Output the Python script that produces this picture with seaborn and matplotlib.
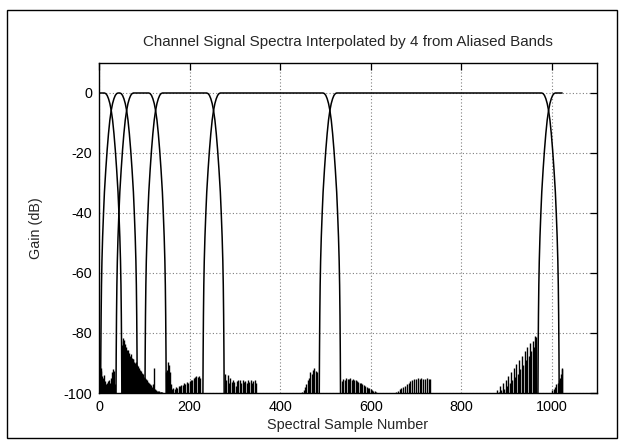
import matplotlib
matplotlib.use("Agg")
import matplotlib.pyplot as plt
import pandas as pd
import seaborn as sns
from matplotlib.patches import Rectangle

# Crossover points between adjacent channels (spectral sample numbers)
band_edges = [0, 27, 61, 125, 253, 510, 993, 1023]

# Shape of one channel's upper transition band: offset from the crossover (samples) and gain (dB)
edge_offset = [-15, -12, -9, -6, -3, 0, 3, 6, 9, 12, 15, 17, 19, 20.5, 21.5, 22.3, 23, 23.5]
edge_gain = [0, -0.2, -0.8, -1.9, -3.5, -5.8, -9, -13.5, -19, -25.5, -33, -40, -48,
             -56, -64, -74, -87, -101]

# Stop-band leakage peaks (sample number, gain in dB)
lobe_a_x = [0.5, 2, 3.5, 5, 7, 9, 11, 13, 15, 17, 19, 21, 23, 25, 27, 29, 31, 33, 35]
lobe_a_db = [-95, -92, -91.7, -92.5, -94.4, -95, -94, -96, -97, -96.5, -96, -95.5, -97.5,
             -96.5, -95, -93, -92, -92.5, -97]

lobe_b_x = [50, 52, 54, 56, 58, 60, 62, 64, 66, 68, 70, 72, 74, 76, 78, 80, 82, 84, 86, 88,
            90, 92, 94, 96, 98, 100, 102, 104, 106, 108, 110, 112, 114, 116, 118, 120, 122,
            124, 126, 128, 130, 132, 134, 136, 138, 140]
lobe_b_db = [-84, -81.8, -82.5, -82.2, -83.5, -84.5, -85.8, -85.5, -86.5, -87.5, -87, -88.2,
             -88.6, -88.8, -89.5, -90, -89.8, -90.8, -91, -91.5, -92.3, -92.5, -93.3, -93.5,
             -93.8, -94.5, -95, -95.3, -95.8, -96.2, -96.5, -97, -97.4, -97.9, -98.3, -97,
             -91.8, -98.8, -99, -99.2, -99.3, -99.4, -99.5, -99.6, -99.7, -99.8]

lobe_c_x = [149, 151, 153, 155, 157, 159, 161, 164, 167, 170, 173, 176, 179, 182, 185, 188,
            191, 194, 197, 200, 203, 206, 209, 212, 215, 218, 221, 224]
lobe_c_db = [-93, -92.2, -89.6, -90.5, -93, -97, -98.5, -98.3, -98.6, -98, -98.2, -97.6, -97.8,
             -97.2, -97.4, -96.8, -97, -96.4, -96.6, -95.9, -95.5, -95.8, -95, -94.8, -94.3,
             -94.6, -94.4, -95]

lobe_d_x = [278, 281, 284, 287, 290, 293, 296, 299, 302, 305, 308, 311, 314, 317, 320, 323,
            326, 329, 332, 335, 338, 341, 344, 347]
lobe_d_db = [-93.7, -95.5, -94, -96.7, -95, -96.4, -95.6, -96.4, -97.5, -96, -95.8, -95.6,
             -96.8, -95.8, -96.3, -95.9, -96.5, -95.8, -96.2, -95.6, -96.5, -96, -95.5, -96.8]

lobe_e_x = [449, 452, 455, 458, 461, 464, 467, 470, 473, 476, 479, 481]
lobe_e_db = [-99.5, -99, -98, -97, -95.5, -95, -93, -93.5, -92.3, -91.8, -92.5, -93]

lobe_f_x = [537, 540, 543, 546, 549, 552, 555, 558, 561, 564, 567, 570, 573, 576, 579, 582,
            585, 588, 591, 594, 597, 600, 603, 606, 609, 612]
lobe_f_db = [-96, -95.4, -95.5, -95, -95.3, -95.2, -95, -95.6, -95.3, -95.8, -95.6, -96,
             -96.2, -96.6, -96.5, -97, -97.3, -97.5, -98, -98.3, -98.2, -98.8, -99, -99.2,
             -99.4, -99.6]

lobe_g_x = [656, 660, 664, 668, 672, 676, 680, 684, 688, 692, 696, 700, 704, 708, 712, 716,
            720, 724, 728, 731]
lobe_g_db = [-99.6, -99.2, -98.8, -98.4, -98, -97.5, -97, -96.5, -96, -95.8, -95.4, -95.2,
             -95.1, -95.4, -95.1, -95.3, -95.2, -95.1, -95.4, -95.3]

lobe_h_x = [880, 883, 886, 889, 892, 895, 898, 901, 904, 907, 910, 913, 916, 919, 922, 925,
            928, 931, 934, 937, 940, 943, 946, 949, 952, 955, 958, 961, 964, 966]
lobe_h_db = [-99, -99.5, -97.8, -99, -96.8, -98.5, -95.5, -97.5, -94.2, -96.5, -93, -95.5,
             -91.7, -94.5, -90.3, -93.5, -89, -92, -87.5, -90.5, -86, -89, -84.5, -87.5,
             -83.2, -86, -82.5, -84.5, -81, -81.2]

lobe_i_x = [1001, 1004, 1007, 1010, 1013, 1016, 1018, 1020, 1022, 1023]
lobe_i_db = [-99, -98.5, -98, -97, -96.5, -95.5, -95, -93.5, -92, -91.5]

x_ticks = [0, 200, 400, 600, 800, 1000]
y_ticks = [-100, -80, -60, -40, -20, 0]

# Build one trace per channel: rising edge, flat pass band, falling edge
rows = []
n_bands = len(band_edges) - 1
for k in range(n_bands):
    lo, hi = band_edges[k], band_edges[k + 1]
    xs, ys = [], []
    if k == 0:
        xs.append(lo)
        ys.append(0.0)
    else:
        for o, g in zip(reversed(edge_offset), reversed(edge_gain)):
            xs.append(lo - o)
            ys.append(g)
    if k == n_bands - 1:
        xs.append(hi)
        ys.append(0.0)
    else:
        for o, g in zip(edge_offset, edge_gain):
            xs.append(hi + o)
            ys.append(g)
    rows += [(f"channel {k + 1}", x, y) for x, y in zip(xs, ys)]
channels = pd.DataFrame(rows, columns=["channel", "sample", "gain"])

sns.set_theme(style="white")
plt.rcParams["font.family"] = ["Liberation Sans", "DejaVu Sans"]
plt.rcParams["axes.unicode_minus"] = False

fig = plt.figure(figsize=(6.22, 4.44), dpi=100)
ax = fig.add_axes([99 / 622, 51 / 444, 498 / 622, 330 / 444])

sns.lineplot(data=channels, x="sample", y="gain", units="channel", estimator=None,
             sort=False, color="black", linewidth=1.1, legend=False, ax=ax)

floor = -100
for lx, ldb in [(lobe_a_x, lobe_a_db), (lobe_b_x, lobe_b_db), (lobe_c_x, lobe_c_db),
                (lobe_d_x, lobe_d_db), (lobe_e_x, lobe_e_db), (lobe_f_x, lobe_f_db),
                (lobe_g_x, lobe_g_db), (lobe_h_x, lobe_h_db), (lobe_i_x, lobe_i_db)]:
    ax.vlines(lx, floor, ldb, colors="black", linewidth=1.0)

ax.set_xlim(0, 1100)
ax.set_ylim(-100, 10)
ax.set_xticks(x_ticks)
ax.set_yticks(y_ticks)
ax.grid(True, color="#808080", linestyle=(0, (1, 2)), linewidth=0.8)
ax.tick_params(direction="in", top=True, right=True, length=5, width=0.9,
               labelsize=10.4, colors="black", pad=5)
for s in ax.spines.values():
    s.set_color("black")
    s.set_linewidth(1.0)

ax.set_xlabel("Spectral Sample Number", fontsize=10.4, labelpad=3)
ax.set_ylabel("Gain (dB)", fontsize=10.4, labelpad=15)
ax.set_title("Channel Signal Spectra Interpolated by 4 from Aliased Bands",
             fontsize=10.9, pad=12)

fig.patches.append(Rectangle((7 / 622, 6 / 444), 610 / 622, 428 / 444,
                             transform=fig.transFigure, fill=False,
                             edgecolor="black", linewidth=1.0))

fig.savefig("out.png", dpi=100)
